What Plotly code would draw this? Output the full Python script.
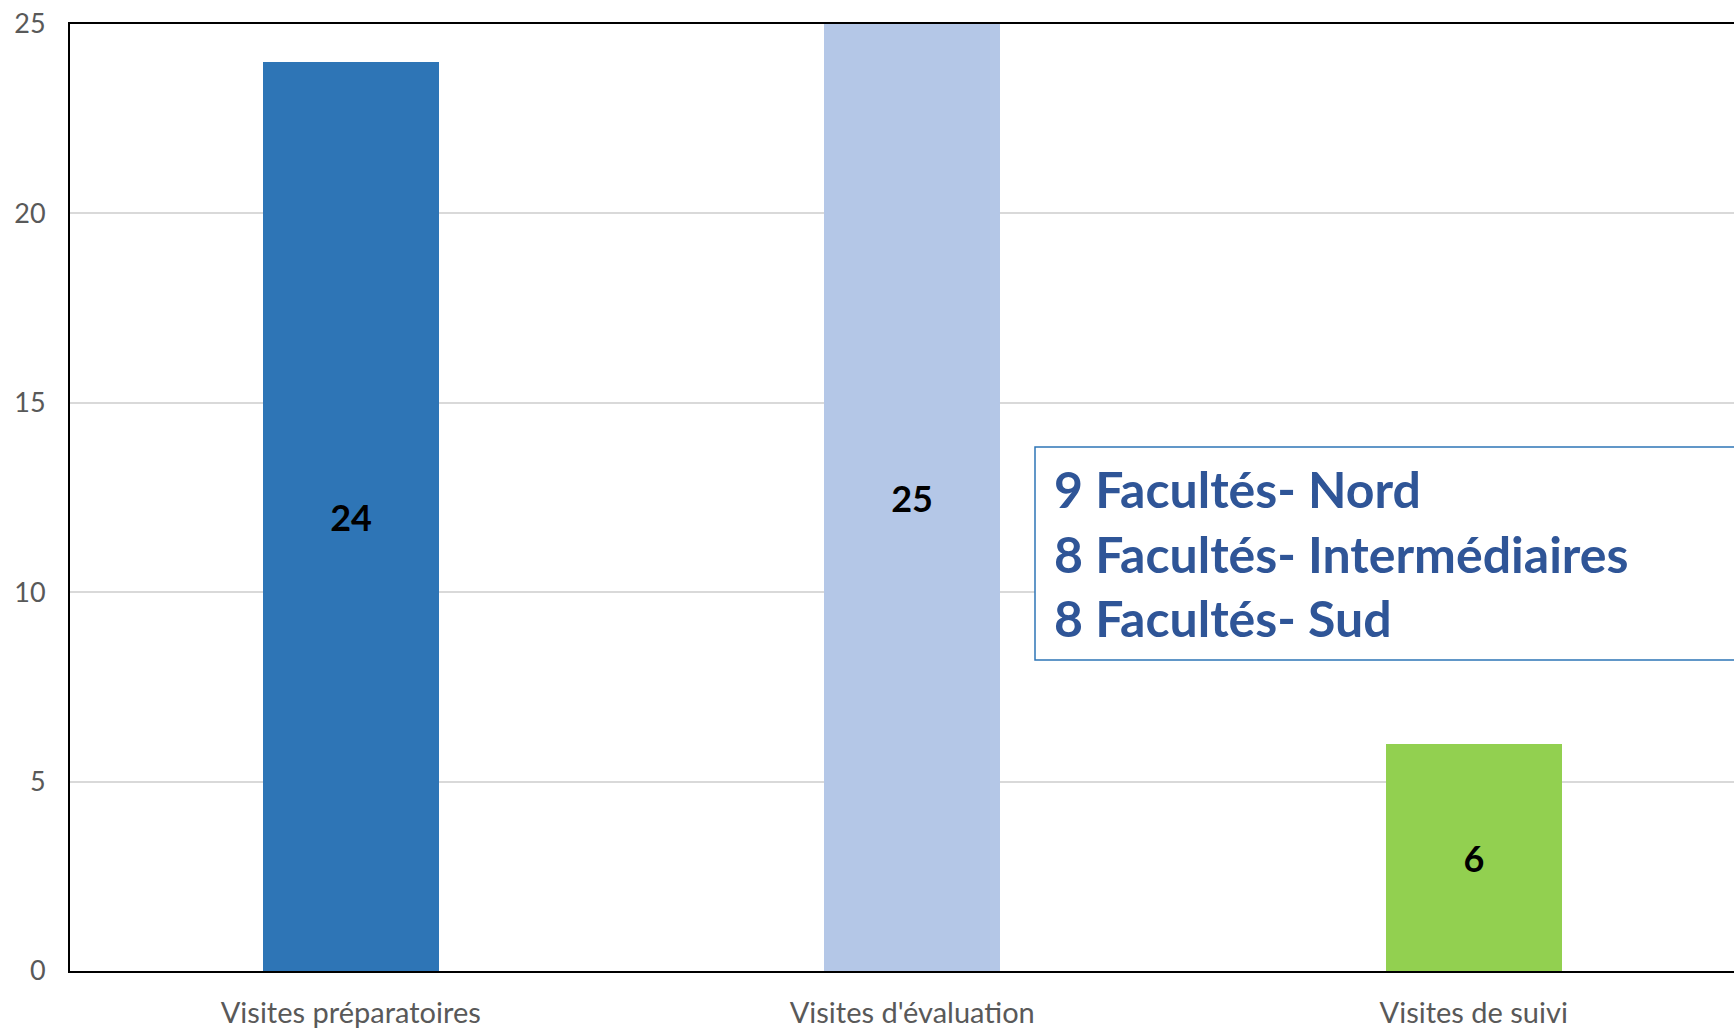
import plotly.graph_objects as go

categories = ["Visites préparatoires", "Visites d'évaluation", "Visites de suivi"]
values = [24, 25, 6]
bar_colors = ["#2E75B6", "#B4C7E7", "#92D050"]
y_ticks = [0, 5, 10, 15, 20, 25]
note_lines = ["9 Facultés- Nord", "8 Facultés- Intermédiaires", "8 Facultés- Sud"]

W, H = 1734, 1028
ML, MT, MB = 70, 24, 57
plot_h = H - MT - MB
plot_w = W - ML
cat_px = 561.5
x_span = plot_w / cat_px

fig = go.Figure()
fig.add_trace(go.Bar(
    x=categories, y=values,
    marker=dict(color=bar_colors, line=dict(width=0)),
    width=0.313,
    text=[str(v) for v in values],
    textposition="inside", insidetextanchor="middle",
    textfont=dict(family="Lato", size=36, color="#000000", weight="bold"),
    textangle=0,
    hoverinfo="skip",
))

def px_to_paper_x(px):
    return (px - ML) / plot_w

def px_to_paper_y(py):
    return (H - MB - py) / plot_h

shapes = [dict(type="rect", xref="paper", yref="paper",
               x0=px_to_paper_x(1035), x1=1.2,
               y0=px_to_paper_y(660), y1=px_to_paper_y(447),
               line=dict(color="#2E75B6", width=1.5), fillcolor="white", layer="above")]

annotations = []
line_y = [489, 554, 618]
for txt, py in zip(note_lines, line_y):
    annotations.append(dict(xref="paper", yref="paper", x=px_to_paper_x(1052), y=px_to_paper_y(py),
                            xanchor="left", yanchor="middle", showarrow=False, text=txt,
                            font=dict(family="Lato", size=50, color="#2F5597", weight="bold")))

fig.update_layout(
    width=W, height=H,
    margin=dict(l=ML, r=0, t=MT, b=MB, pad=0, autoexpand=False),
    paper_bgcolor="white", plot_bgcolor="white",
    showlegend=False,
    bargap=0,
    shapes=shapes,
    annotations=annotations,
    xaxis=dict(
        range=[-0.5, -0.5 + x_span],
        showline=True, linecolor="#000000", linewidth=2, mirror=True,
        showgrid=False, ticks="", ticklabelstandoff=15, automargin=False,
        tickfont=dict(family="Lato", size=29, color="#595959"),
        fixedrange=True,
    ),
    yaxis=dict(
        range=[0, 25], tickvals=y_ticks,
        showline=True, linecolor="#000000", linewidth=2, mirror=False,
        showgrid=True, gridcolor="#D9D9D9", gridwidth=1.5,
        zeroline=False, ticks="", ticklabelstandoff=17, automargin=False,
        tickfont=dict(family="Lato", size=27, color="#595959"),
        fixedrange=True,
    ),
)

fig.write_html("out.html", config={"displayModeBar": False},
               post_script="document.body.style.margin='0';document.body.style.overflow='hidden';")
